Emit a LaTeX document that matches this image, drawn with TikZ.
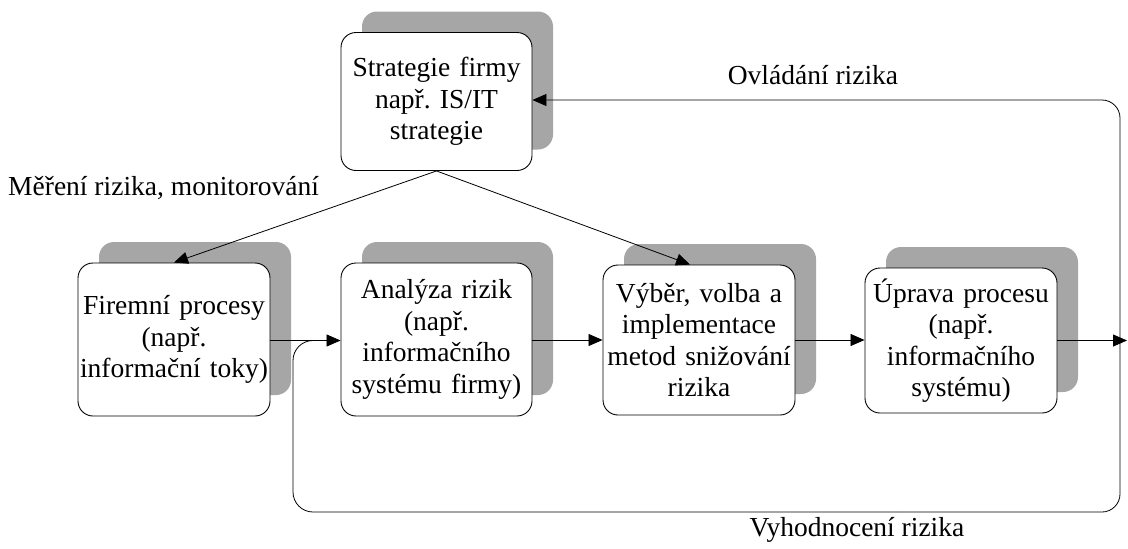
\documentclass[tikz,border=0pt]{standalone}
\usepackage{fontspec}
\setmainfont{Liberation Serif}
\usetikzlibrary{arrows.meta,shadows,calc}
\frenchspacing
\definecolor{shd}{RGB}{166,166,166}
\tikzset{
  box/.style={draw=black, line width=0.9pt, fill=white, rounded corners=15pt,
    align=center, inner sep=0pt, text width=190pt,
    general shadow={shadow xshift=21pt, shadow yshift=21pt, fill=shd, draw=none},
    font=\fontsize{27.5}{31.5}\selectfont},
  link/.style={draw=black, line width=0.8pt, -{Triangle[length=14pt,width=12pt]}},
  lbl/.style={font=\fontsize{27.5}{31}\selectfont, inner sep=0pt}
}
\begin{document}
\begin{tikzpicture}[x=1pt,y=-1pt]
\useasboundingbox (0,0) rectangle (1128,549);
\fill[white] (0,0) rectangle (1128,549);

% process boxes
\node[box, minimum width=191pt, minimum height=138pt] (top) at (436.5,101.5)
  {Strategie firmy\\např. IS/IT\\strategie};
\node[box, minimum width=192pt, minimum height=153pt] (b1) at (174,339.5)
  {Firemní procesy\\(např.\\informační toky)};
\node[box, minimum width=191pt, minimum height=153pt] (b2) at (436.5,339.5)
  {Analýza rizik\\(např.\\informačního\\systému firmy)};
\node[box, minimum width=192pt, minimum height=150pt] (b3) at (699,340)
  {Výběr, volba a\\implementace\\metod snižování\\rizika};
\node[box, minimum width=192pt, minimum height=145pt] (b4) at (961,340.5)
  {Úprava procesu\\(např.\\informačního\\systému)};

% labels
\node[lbl] (l1) at (813,75) {Ovládání rizika};
\node[lbl, anchor=west] (l2) at (8,188) {Měření rizika, monitorování};
\node[lbl] (l3) at (857,530) {Vyhodnocení rizika};

% free ends and bends of the loops
\coordinate (out) at (1127,340.5);
\coordinate (jn) at (318,340.5);

% main flow
\draw[link] (top.south) -- (b1.north);
\draw[link] (top.south) -- ($(b3.north)+(-9,0)$);
\draw[link] (b1.east |- jn) -- (b2.west |- jn);
\draw[link] (b2.east |- b3.east) -- (b3.east -| b3.west);
\draw[link] (b3.east) -- (b4.west |- b3.east);
\draw[link] (b4.east |- out) -- (out);

% feedback loops
\draw[line width=0.8pt, rounded corners=20pt] (jn) -- (293,340.5) -- (293,512) -- (900,512);
\draw[link, rounded corners=18pt] (900,512) -- (1120,512) -- (1120,100) -- (top.east |- 0,100);
\end{tikzpicture}
\end{document}
